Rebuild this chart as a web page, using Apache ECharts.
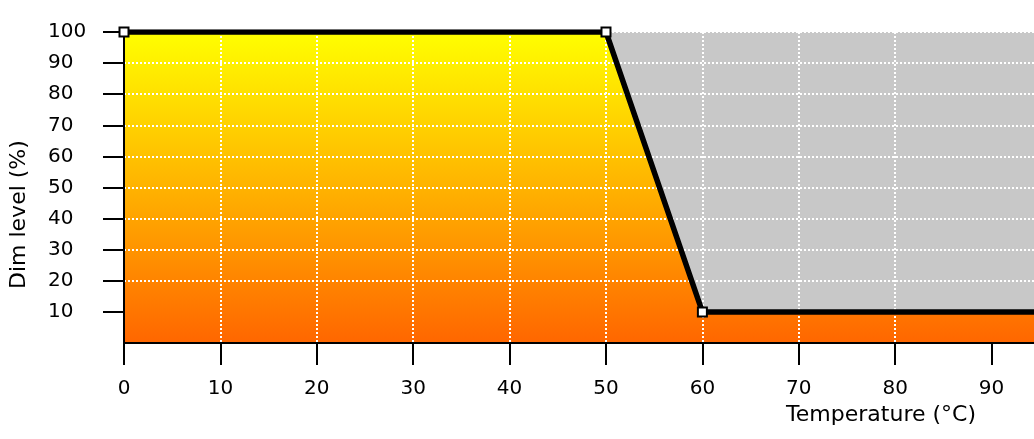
<!DOCTYPE html>
<html>
<head>
<meta charset="utf-8">
<script src="https://cdn.jsdelivr.net/npm/echarts@6/dist/echarts.min.js"></script>
<style>
html,body{margin:0;padding:0;background:#fff;}
#chart{width:1034px;height:439px;}
</style>
</head>
<body>
<div id="chart"></div>
<script>
// Data
const temperatures = [0, 50, 60, 100];
const dimLevels = [100, 100, 10, 10];
const xTickValues = [0, 10, 20, 30, 40, 50, 60, 70, 80, 90];
const yTickValues = [10, 20, 30, 40, 50, 60, 70, 80, 90, 100];
const xAxisName = 'Temperature (°C)';
const yAxisName = 'Dim level (%)';

const points = temperatures.map((t, i) => [t, dimLevels[i]]);
const FONT = 'DejaVu Sans';

const chart = echarts.init(document.getElementById('chart'), null, {renderer: 'canvas'});
chart.setOption({
  animation: false,
  backgroundColor: '#ffffff',
  grid: {
    left: 124, top: 32, right: 0, bottom: 96,
    show: true, backgroundColor: '#c8c8c8', borderWidth: 0
  },
  xAxis: {
    type: 'value', min: 0, max: 94.4, interval: 10, z: 3,
    axisLine: {show: true, onZero: false, lineStyle: {color: '#000', width: 2}},
    axisTick: {show: true, length: 22, lineStyle: {color: '#000', width: 2}, customValues: xTickValues},
    axisLabel: {
      color: '#000', fontFamily: FONT, fontSize: 20, margin: 36,
      customValues: xTickValues,
      formatter: v => (xTickValues.indexOf(v) >= 0 ? String(v) : '')
    },
    splitLine: {show: true, showMinLine: false, showMaxLine: false,
      lineStyle: {color: '#ffffff', width: 2, type: [2, 2]}}
  },
  yAxis: {
    type: 'value', min: 0, max: 100, interval: 10, z: 3,
    axisLine: {show: true, onZero: false, lineStyle: {color: '#000', width: 2}},
    axisTick: {show: true, length: 21, lineStyle: {color: '#000', width: 2}, customValues: yTickValues},
    axisLabel: {
      color: '#000', fontFamily: FONT, fontSize: 20, margin: 76, align: 'left',
      customValues: yTickValues,
      formatter: v => (yTickValues.indexOf(v) >= 0 ? String(v) : '')
    },
    splitLine: {show: true, showMinLine: false, showMaxLine: true,
      lineStyle: {color: '#ffffff', width: 2, type: [2, 2]}}
  },
  graphic: [
    {type: 'text', right: 1034 - 976, top: 404, z: 10,
      style: {text: xAxisName, fill: '#000', font: '22px "' + FONT + '"'}},
    {type: 'text', x: 8, y: 289, rotation: Math.PI / 2, z: 10,
      style: {text: yAxisName, fill: '#000', font: '22px "' + FONT + '"', textAlign: 'left', textVerticalAlign: 'top'}}
  ],
  series: [
    {
      type: 'line', data: points, z: 1, symbol: 'none', silent: true,
      lineStyle: {width: 0},
      areaStyle: {
        opacity: 1,
        color: new echarts.graphic.LinearGradient(0, 0, 0, 1, [
          {offset: 0, color: '#ffff00'},
          {offset: 1, color: '#ff6600'}
        ])
      }
    },
    {
      type: 'line', data: points, z: 5,
      symbol: 'rect', symbolSize: 9, showAllSymbol: true,
      lineStyle: {color: '#000', width: 5.5},
      itemStyle: {color: '#ffffff', borderColor: '#000', borderWidth: 2}
    }
  ]
});
</script>
</body>
</html>
